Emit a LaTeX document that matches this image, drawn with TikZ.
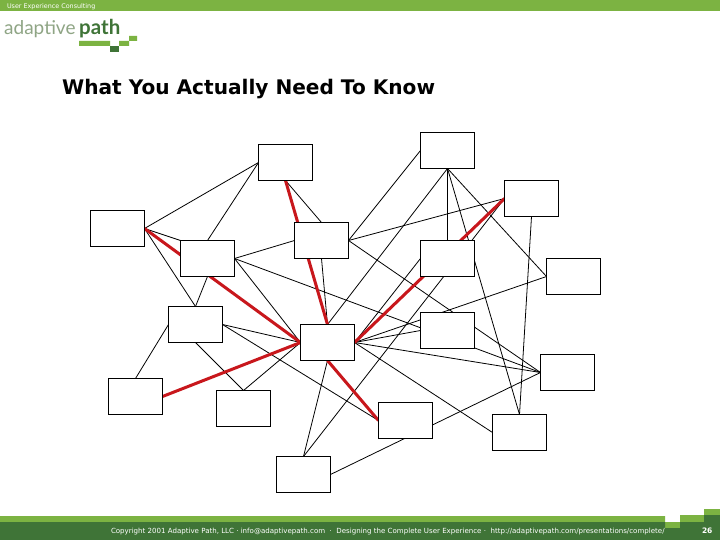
\documentclass[tikz,border=0pt]{standalone}
\usepackage{fontspec}
\setmainfont{DejaVu Sans}
\newfontfamily\logofont{Lato}
\definecolor{lightgreen}{HTML}{7CB342}
\definecolor{darkgreen}{HTML}{3F7437}
\definecolor{logogrey}{HTML}{8FA585}
\definecolor{redline}{HTML}{C8171C}
\tikzset{
  bx/.style={draw=black,fill=white,line width=1pt,minimum width=54pt,minimum height=36pt,inner sep=0pt,outer sep=0pt},
  thinl/.style={draw=black,line width=0.8pt},
  redl/.style={draw=redline,line width=3pt},
  bartext/.style={inner sep=0pt,outer sep=0pt,anchor=base west,text=white}
}
\begin{document}
\begin{tikzpicture}[x=1pt,y=-1pt]
\useasboundingbox (0,0) rectangle (720,540);
\fill[white] (0,0) rectangle (720,540);
% header
\fill[lightgreen] (0,0) rectangle (720,11.5);
\node[bartext,font=\fontsize{6.4}{8}\selectfont] (hdr) at (7,8.5) {User Experience Consulting};
\node[inner sep=0pt,anchor=base west,text=logogrey,font=\logofont\fontsize{19}{22}\selectfont] (lg1) at (4,35) {adaptive};
\node[inner sep=0pt,anchor=base west,text=darkgreen,font=\logofont\fontsize{20.5}{22}\selectfont\bfseries] (lg2) at (79,35) {path};
\fill[lightgreen] (79,41) rectangle (110,46) (119,41) rectangle (129,46) (129,36) rectangle (137,41);
\fill[darkgreen] (110,46) rectangle (119,52);
% title
\node[inner sep=0pt,anchor=base west,font=\fontsize{20.1}{24}\selectfont\bfseries] (title) at (62,95) {What You Actually Need To Know};
% footer
\fill[lightgreen] (0,516) rectangle (665,522) (665,522) rectangle (680,528) (680,515) rectangle (704,522) (704,509) rectangle (720,515);
\fill[darkgreen] (0,522) rectangle (665,540) (665,528) rectangle (680,540) (680,522) rectangle (704,540) (704,515) rectangle (720,540);
\node[bartext,font=\fontsize{7.05}{8}\selectfont] (foot) at (111,533) {Copyright 2001 Adaptive Path, LLC · info@adaptivepath.com\ \ ·\ \ Designing the Complete User Experience\ ·\ \ http://adaptivepath.com/presentations/complete/};
\node[bartext,font=\fontsize{7.5}{8}\selectfont\bfseries] (pg) at (702,533) {26};
% boxes (placed first so connectors can use names)
\node[bx] (a) at (285.5,162.5) {};
\node[bx] (b) at (117.5,228.5) {};
\node[bx] (c) at (207.5,258.5) {};
\node[bx] (d) at (321.5,240.5) {};
\node[bx] (e) at (195.5,324.5) {};
\node[bx] (f) at (327.5,342.5) {};
\node[bx] (g) at (135.5,396.5) {};
\node[bx] (h) at (243.5,408.5) {};
\node[bx] (i) at (303.5,474.5) {};
\node[bx] (j) at (447.5,150.5) {};
\node[bx] (k) at (531.5,198.5) {};
\node[bx] (l) at (447.5,258.5) {};
\node[bx] (m) at (573.5,276.5) {};
\node[bx] (n) at (447.5,330.5) {};
\node[bx] (o) at (567.5,372.5) {};
\node[bx] (p) at (405.5,420.5) {};
\node[bx] (q) at (519.5,432.5) {};
% connectors
\foreach \s/\t in {a.west/b.east,a.west/c.north,a.south/d.north,b.east/c.north west,b.east/e.north,
  c.south/e.north,c.east/d.west,c.east/o.west,c.east/f.west,d.south/f.north,d.east/k.west,d.east/j.west,
  d.east/o.west,f.north/j.south,j.south/l.north,j.south/m.west,j.south/q.north,k.south/q.north,k.west/i.north,
  l.west/f.east,m.west/f.east,n.west/f.east,f.east/o.west,e.east/f.west,e.east/p.west,e.west/g.north,
  e.south/h.north,h.north/f.west,f.east/q.west,f.south/i.north,i.east/o.west}
  {\draw[thinl] (\s) -- (\t);}
\foreach \s/\t in {a.south/f.north,b.east/f.west,g.east/f.west,k.west/f.east,f.south/p.west}
  {\draw[redl] (\s) -- (\t);}
% redraw box faces above the connectors
\foreach \n in {a,b,c,d,e,f,g,h,i,j,k,l,m,n,o,p,q}
  {\draw[black,fill=white,line width=1pt] (\n.north west) rectangle (\n.south east);}
\end{tikzpicture}
\end{document}
